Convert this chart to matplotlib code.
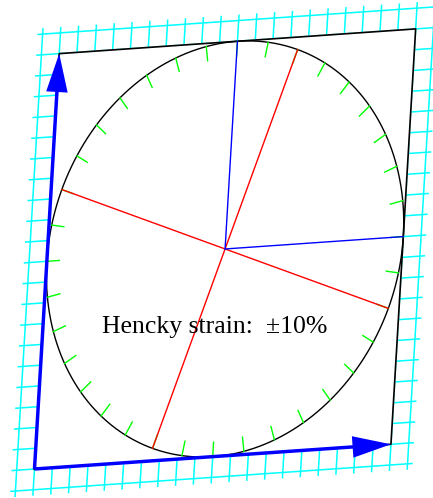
import numpy as np
import matplotlib
matplotlib.use("Agg")
import matplotlib.pyplot as plt

# Hencky (logarithmic) strain state
strain = 0.10              # principal log-strain, +/- along the two axes
principal_angle = 70.0     # degrees, direction of the stretching axis
n_cells = 20               # grid cells along one side of the unit square
mark_step = 10             # degrees between marks on the circle
label = "Hencky strain:  \u00b110%"

# Deformation gradient F = exp(H), H symmetric with eigenvalues +/- strain
th = np.radians(principal_angle)
R = np.array([[np.cos(th), -np.sin(th)], [np.sin(th), np.cos(th)]])
F = R @ np.diag([np.exp(strain), np.exp(-strain)]) @ R.T


def warp(x, y):
    p = F @ np.vstack([np.ravel(x), np.ravel(y)])
    return p[0], p[1]


fig = plt.figure(figsize=(4.33, 4.98), dpi=100)
ax = fig.add_axes([0, 0, 1, 1])
ax.set_xlim(-0.0898, 1.0378)
ax.set_ylim(-0.0755, 1.2214)
ax.set_aspect("equal")
ax.axis("off")

# deformed background grid, one cell beyond the square on every side
h = 1.0 / n_cells
lines = np.arange(-1, n_cells + 2) * h
span = np.linspace(-h - 0.25 * h, 1 + h + 0.25 * h, 2)
for c in lines:
    ax.plot(*warp(np.full(2, c), span), color="cyan", lw=1.1, zorder=1)
    ax.plot(*warp(span, np.full(2, c)), color="cyan", lw=1.1, zorder=1)

# the deformed unit square, white inside
sq = np.array([[0, 1, 1, 0, 0], [0, 0, 1, 1, 0]], dtype=float)
sx, sy = warp(sq[0], sq[1])
ax.fill(sx, sy, color="white", zorder=2)
ax.plot(sx, sy, color="black", lw=1.2, zorder=3)

# inscribed circle mapped to an ellipse
t = np.linspace(0, 2 * np.pi, 400)
ex, ey = warp(0.5 + 0.5 * np.cos(t), 0.5 + 0.5 * np.sin(t))
ax.plot(ex, ey, color="black", lw=1.0, zorder=3)

# radial marks around the circle
for a in np.radians(np.arange(0, 360, mark_step)):
    r = np.array([0.5, 0.465])
    mx, my = warp(0.5 + r * np.cos(a), 0.5 + r * np.sin(a))
    ax.plot(mx, my, color="lime", lw=1.0, zorder=4)

# principal axes (full diameters of the ellipse)
cx, cy = warp(0.5, 0.5)
for k, s in enumerate([np.exp(strain), np.exp(-strain)]):
    d = R[:, k] * 0.5 * s
    ax.plot([cx[0] - d[0], cx[0] + d[0]], [cy[0] - d[1], cy[0] + d[1]],
            color="red", lw=1.0, zorder=5)

# material radii along the original x and y directions
for px, py in [(1.0, 0.5), (0.5, 1.0)]:
    bx, by = warp(np.array([0.5, px]), np.array([0.5, py]))
    ax.plot(bx, by, color="blue", lw=1.0, zorder=5)

# deformed basis vectors
for e in [(1.0, 0.0), (0.0, 1.0)]:
    tx, ty = warp(e[0], e[1])
    ax.arrow(0, 0, tx[0], ty[0], width=0.009, head_width=0.056,
             head_length=0.1, length_includes_head=True,
             color="blue", lw=0, zorder=6)

ax.text(0.470, 0.354, label, ha="center", va="baseline",
        family=["Liberation Serif", "DejaVu Serif"], fontsize=18.5, zorder=7)

fig.savefig("out.png", dpi=100)
